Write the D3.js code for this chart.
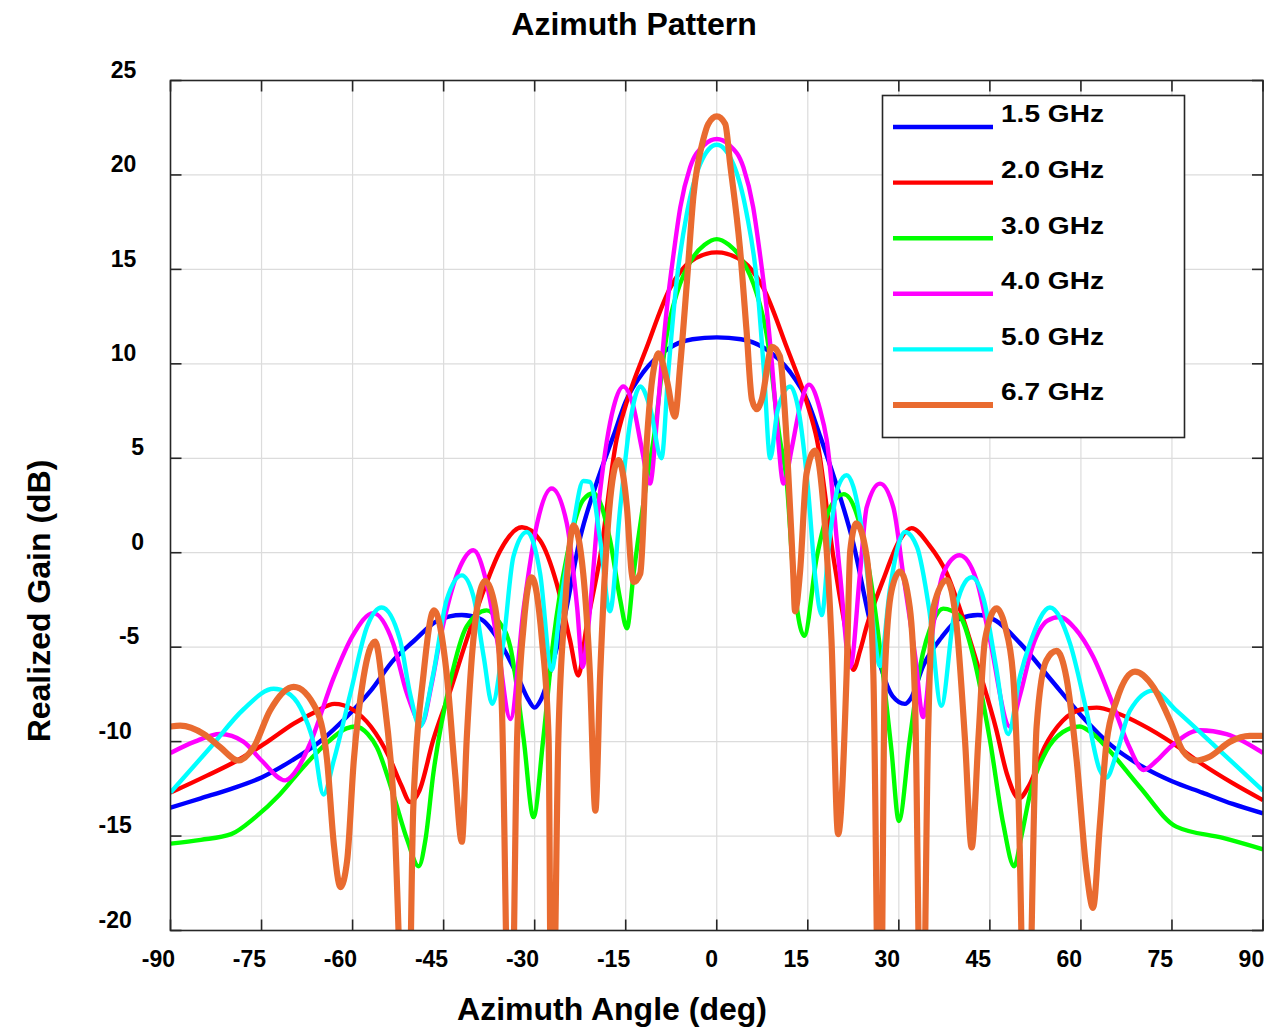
<!DOCTYPE html>
<html>
<head>
<meta charset="utf-8">
<script src="https://cdn.jsdelivr.net/npm/d3@7"></script>
<style>
  body { margin: 0; background: #fff; }
  text { font-family: "Liberation Sans", Arial, sans-serif; font-weight: bold; fill: #000; }
</style>
</head>
<body>
<svg width="1270" height="1030"></svg>
<script>
// series labels and colours
var freqs = ["1.5 GHz", "2.0 GHz", "3.0 GHz", "4.0 GHz", "5.0 GHz", "6.7 GHz"];
var colors = ["#0000ff", "#ff0000", "#00ff00", "#ff00ff", "#00ffff", "#e96b30"];
var xTicks = [-90, -75, -60, -45, -30, -15, 0, 15, 30, 45, 60, 75, 90];
var yTicks = [-20, -15, -10, -5, 0, 5, 10, 15, 20, 25];

// [angle deg, gain dB]
var g15 = [[-90,-13.5],[-85,-13.0],[-80,-12.5],[-75,-11.9],[-70,-11.0],[-65,-9.9],[-61,-8.7],[-57,-7.3],[-53.3,-5.7],[-50,-4.7],[-46,-3.6],[-42,-3.3],[-39,-3.5],[-36,-4.6],[-33,-6.4],[-31,-7.8],[-30,-8.2],[-29,-7.8],[-27,-5.8],[-25,-3.3],[-22.5,0.8],[-20,3.5],[-17,6.2],[-15,8.0],[-12,9.6],[-8,10.8],[-4,11.3],[0,11.4],[4,11.3],[8,10.8],[12,9.6],[15,8.0],[17,6.2],[20,3.3],[22.5,0.5],[25,-3.3],[27,-6.0],[29,-7.6],[31,-8.0],[32,-7.7],[34,-6.0],[37,-4.5],[40,-3.5],[43,-3.3],[46,-3.6],[50,-4.8],[55,-6.7],[60,-8.6],[65,-10.2],[70,-11.3],[75,-12.1],[80,-12.7],[85,-13.3],[90,-13.8]];

var g20 = [[-90,-12.7],[-84,-11.8],[-79,-11.0],[-74,-10.0],[-69.7,-9.05],[-66,-8.4],[-63,-8.0],[-60,-8.3],[-57,-9.2],[-54,-10.8],[-52,-12.3],[-50.5,-13.2],[-49,-12.6],[-46.7,-9.9],[-43.9,-7.3],[-41.2,-4.6],[-38.4,-2.0],[-35.7,0.1],[-32.1,1.35],[-29.1,0.65],[-26.4,-1.6],[-24.2,-4.6],[-22.8,-6.5],[-21.5,-4.0],[-19.2,-0.2],[-16.5,6.0],[-15,7.8],[-11.5,10.9],[-7.7,14.0],[-4.4,15.4],[0,15.9],[4.4,15.4],[7.7,14.0],[11.5,10.9],[15,7.8],[16.5,6.0],[19.2,-0.2],[21.3,-4.2],[22.5,-6.2],[23.6,-5.2],[24.7,-3.9],[27.4,-1.45],[30.2,0.7],[32.1,1.3],[35,0.4],[37.9,-1.1],[40.5,-3.4],[43.4,-6.4],[46,-9.3],[47.8,-11.7],[49.8,-13.0],[51.5,-12.3],[54,-10.3],[57,-8.9],[60,-8.3],[62.6,-8.2],[66,-8.5],[70,-9.1],[75.2,-10.1],[80,-11.2],[85,-12.2],[90,-13.1]];

var g30 = [[-90,-15.4],[-85,-15.2],[-80,-14.9],[-76,-14.0],[-72,-12.8],[-68,-11.3],[-64,-10.0],[-61,-9.3],[-59.5,-9.2],[-57.5,-9.6],[-56,-10.3],[-53.3,-12.8],[-51,-15.2],[-49.1,-16.6],[-48,-15.2],[-46.7,-11.7],[-43.9,-6.8],[-41.2,-3.9],[-37.9,-3.05],[-36,-3.6],[-34,-5.0],[-31.8,-9.9],[-30.2,-14.0],[-28.6,-9.9],[-26.9,-4.6],[-24.7,-0.2],[-22,2.8],[-20.3,3.15],[-17.6,0.7],[-15.9,-2.5],[-14.8,-4.0],[-13.7,-1.1],[-11.5,3.85],[-10.4,6.0],[-8.2,11.6],[-6.6,13.7],[-4,15.6],[-2,16.3],[0,16.6],[2,16.3],[4,15.6],[6.6,13.7],[8.2,11.6],[10.4,6.0],[11.5,3.85],[12.6,-1.1],[14.4,-4.4],[16.5,-0.2],[18.7,2.4],[20.9,3.1],[23,2.1],[25.2,-1.1],[27.4,-6.4],[28.8,-10.5],[30,-14.2],[31.8,-9.9],[33.5,-6.05],[35.7,-3.6],[37.3,-2.96],[40.1,-3.4],[42.3,-5.5],[45,-9.9],[47.2,-14.35],[49,-16.6],[50.2,-15.0],[51.6,-12.8],[54.3,-10.5],[57,-9.5],[59.8,-9.2],[62,-9.6],[64.2,-10.3],[69.7,-12.4],[75.7,-14.5],[83.4,-15.1],[90,-15.7]];

var g40 = [[-90,-10.6],[-86,-10.0],[-81.8,-9.6],[-78,-10.0],[-75,-11.0],[-71.1,-12.05],[-69,-11.4],[-67,-10.1],[-63.1,-6.6],[-60,-4.4],[-56.6,-3.2],[-53.3,-4.8],[-51,-7.5],[-48.6,-9.05],[-47,-7.0],[-45.6,-4.6],[-42.3,-0.75],[-40.1,0.13],[-38,-1.5],[-36.2,-4.6],[-34,-8.8],[-31.8,-2.9],[-29.6,1.55],[-27.2,3.4],[-24.7,1.55],[-23,-2.9],[-22.1,-6.05],[-21.4,-4.6],[-19.2,3.3],[-17,7.7],[-15.4,8.8],[-13.7,7.7],[-12.4,5.6],[-11,3.66],[-9.9,6.85],[-9.1,10.0],[-8.2,13.0],[-7.1,15.85],[-6,18.3],[-4.4,20.4],[-2,21.6],[0,21.9],[2,21.6],[4.4,20.4],[6,18.3],[7.1,15.85],[8.2,13.0],[9.1,10.0],[9.9,6.85],[11,3.66],[12.4,5.6],[13.7,7.7],[15.2,8.9],[17,7.6],[18.1,6.0],[20.3,-1.1],[22,-6.05],[23.6,-1.1],[24.7,2.4],[26.9,3.66],[29.1,2.4],[30.7,-1.1],[32.7,-5.5],[34,-8.7],[35.7,-3.8],[37.3,-1.1],[40,-0.13],[42.8,-1.45],[45,-4.6],[48.3,-9.2],[50,-7.5],[52,-5.0],[54.5,-3.6],[56.5,-3.4],[59,-4.0],[62,-5.5],[65,-7.8],[68,-10.3],[70.3,-11.5],[72.5,-11.0],[74.7,-10.3],[79.6,-9.4],[84,-9.6],[90,-10.6]];

var g50 = [[-90,-12.7],[-83.4,-10.3],[-78,-8.3],[-73,-7.2],[-70.8,-7.4],[-68.6,-8.2],[-66.4,-10.1],[-64.8,-12.8],[-63.1,-11.0],[-60.4,-7.5],[-57.6,-3.9],[-55.2,-2.9],[-52.2,-4.6],[-50.5,-7.5],[-48.9,-9.2],[-46.7,-6.4],[-44.5,-2.5],[-42,-1.2],[-40.1,-2.3],[-38.4,-5.5],[-37,-8.0],[-35.1,-4.6],[-33.5,-0.2],[-31.3,1.1],[-29.1,-1.1],[-27.2,-6.2],[-25.8,-2.9],[-23.6,1.55],[-22,3.8],[-20.9,3.75],[-19.2,0.67],[-17.6,-3.1],[-15.9,2.4],[-14.3,6.85],[-12.6,8.8],[-11,7.7],[-9.1,5.0],[-8,9.5],[-6.6,14.4],[-4.9,18.0],[-2.7,20.6],[0,21.6],[2.7,20.6],[4.9,18.0],[6.6,14.4],[7.8,9.5],[8.8,5.0],[10,7.5],[12.1,8.8],[13.5,7.5],[15,3.5],[16.3,-1.5],[17.3,-3.3],[18.5,0.5],[20,3.5],[21.4,4.1],[22.5,3.5],[24,1.0],[25.5,-3.0],[26.9,-6.0],[28.5,-2.0],[30,0.5],[31,1.1],[33,0.3],[35,-3.0],[37,-8.1],[39,-3.5],[40.5,-1.8],[42,-1.3],[44,-2.5],[46,-6.0],[48,-9.6],[50,-6.5],[51.6,-4.8],[54.9,-2.9],[58.2,-4.8],[60.9,-8.35],[63.1,-11.5],[64.2,-11.9],[65.9,-10.6],[68.1,-8.35],[71.9,-7.3],[75.7,-8.35],[82.3,-10.3],[90,-12.6]];

var g67 = [[-90,-9.2],[-88.4,-9.15],[-84.5,-9.6],[-81.8,-10.3],[-78.8,-11.0],[-76.3,-10.3],[-73.6,-8.35],[-69.7,-7.1],[-65.9,-8.35],[-64.2,-11.0],[-63.1,-15.4],[-62,-17.7],[-60.9,-16.3],[-59.8,-11.0],[-58.2,-6.6],[-56.3,-4.7],[-54.9,-7.5],[-53.3,-12.8],[-51,-30],[-50,-13.5],[-48.3,-6.4],[-46.6,-3.05],[-44.5,-6.4],[-43.1,-11.7],[-42,-15.3],[-41.2,-9.9],[-40.1,-4.6],[-38.2,-1.5],[-36.5,-2.9],[-35.4,-8.2],[-34,-30],[-32.9,-9.9],[-31.8,-3.8],[-30.5,-1.3],[-28.8,-4.6],[-27.7,-9.9],[-27.2,-30],[-26.1,-9.9],[-25,-2.9],[-23.6,1.45],[-22,-1.1],[-20.9,-6.4],[-20,-13.65],[-19.2,-6.4],[-18.1,0.67],[-17,4.2],[-16.2,4.9],[-14.8,2.4],[-14,-1.1],[-13.7,-1.55],[-12.6,-1.1],[-11.5,6.0],[-9.9,10.4],[-9.6,10.55],[-8.2,9.1],[-6.9,7.2],[-6,10.0],[-4.9,14.4],[-3.85,18.85],[-2.2,21.9],[-1.4,22.7],[0,23.1],[1.4,22.7],[2.2,20.6],[3.8,16.2],[4.9,11.8],[5.8,8.1],[6.6,7.6],[7.4,8.1],[9.1,10.9],[10.4,10.4],[11.5,6.0],[12.6,-1.1],[12.9,-3.1],[13.7,-1.1],[14.8,4.2],[16.2,5.4],[17.8,1.55],[18.9,-4.6],[20,-14.9],[21.4,-6.4],[22,0.13],[23,1.55],[24.7,-0.2],[25.8,-6.4],[26.9,-30],[27.7,-6.4],[28.8,-2.0],[30.2,-1.0],[31.8,-2.9],[32.7,-8.2],[33.8,-30],[34.8,-9.9],[35.7,-2.9],[37.9,-1.45],[39.5,-3.8],[40.9,-9.9],[42,-15.6],[43.1,-9.9],[44.2,-4.6],[46.1,-2.95],[47.5,-3.9],[48.8,-6.4],[49.7,-12.8],[51,-30],[52.7,-9.2],[54.3,-5.7],[56,-5.2],[57.6,-6.6],[59.3,-11.0],[60.9,-16.8],[62,-18.8],[63.1,-14.5],[64.2,-10.1],[65.9,-7.8],[68.9,-6.3],[71.9,-7.1],[74.7,-8.9],[76.8,-10.5],[79,-11.0],[81.2,-10.8],[84.6,-10.0],[87.8,-9.7],[90,-9.7]];

var series = [g15, g20, g30, g40, g50, g67];

var svg = d3.select("svg");
var plotL = 170.5, plotT = 80.5, plotR = 1263, plotB = 930.5;

var x = d3.scaleLinear().domain([-90, 90]).range([plotL, plotR]);
var y = d3.scaleLinear().domain([-20, 25]).range([plotB, plotT]);

// grid
svg.append("g").selectAll("line").data(xTicks.slice(1, -1)).enter().append("line")
    .attr("x1", function(d){return x(d);}).attr("x2", function(d){return x(d);})
    .attr("y1", plotT).attr("y2", plotB)
    .attr("stroke", "#dcdcdc").attr("stroke-width", 1.2);
svg.append("g").selectAll("line").data(yTicks.slice(1, -1)).enter().append("line")
    .attr("y1", function(d){return y(d);}).attr("y2", function(d){return y(d);})
    .attr("x1", plotL).attr("x2", plotR)
    .attr("stroke", "#dcdcdc").attr("stroke-width", 1.2);

// curves
svg.append("clipPath").attr("id", "plotclip")
  .append("rect").attr("x", plotL).attr("y", plotT).attr("width", plotR - plotL).attr("height", plotB - plotT);

var line = d3.line()
    .x(function(d){return x(d[0]);})
    .y(function(d){return y(d[1]);})
    .curve(d3.curveMonotoneX);

svg.append("g").attr("clip-path", "url(#plotclip)")
  .selectAll("path").data(series).enter().append("path")
    .attr("d", line)
    .attr("fill", "none")
    .attr("stroke", function(d, i){return colors[i];})
    .attr("stroke-width", function(d, i){return i == 5 ? 6.2 : 4.4;})
    .attr("stroke-linejoin", "round");

// frame and inward ticks
var frame = svg.append("g").attr("stroke", "#262626").attr("stroke-width", 1.6).attr("fill", "none");
frame.append("rect").attr("x", plotL).attr("y", plotT).attr("width", plotR - plotL).attr("height", plotB - plotT);
xTicks.forEach(function(t){
  frame.append("line").attr("x1", x(t)).attr("x2", x(t)).attr("y1", plotB).attr("y2", plotB - 11);
  frame.append("line").attr("x1", x(t)).attr("x2", x(t)).attr("y1", plotT).attr("y2", plotT + 11);
});
yTicks.forEach(function(t){
  frame.append("line").attr("y1", y(t)).attr("y2", y(t)).attr("x1", plotL).attr("x2", plotL + 11);
  frame.append("line").attr("y1", y(t)).attr("y2", y(t)).attr("x1", plotR).attr("x2", plotR - 11);
});

// tick labels
svg.append("g").selectAll("text").data(xTicks).enter().append("text")
    .attr("x", function(d){return x(d) + (d < 0 ? 4.5 : 1.2);})
    .attr("y", 966.5)
    .attr("text-anchor", "end")
    .style("font-size", "23px")
    .text(function(d){return d;});

svg.append("g").selectAll("text").data(yTicks).enter().append("text")
    .attr("y", function(d){return y(d) - 2.8;})
    .attr("text-anchor", "end")
    .style("font-size", "23px")
    .text(function(d){return d;})
    .attr("x", function(){return 144 - 0.6 * (this.getComputedTextLength() - 12.8);});

// titles
svg.append("text").attr("x", 634).attr("y", 35).attr("text-anchor", "middle")
    .style("font-size", "32px").text("Azimuth Pattern");
svg.append("text").attr("x", 612).attr("y", 1020).attr("text-anchor", "middle")
    .style("font-size", "32px").text("Azimuth Angle (deg)");
svg.append("text").attr("transform", "translate(50,601) rotate(-90)").attr("text-anchor", "middle")
    .style("font-size", "32px").text("Realized Gain (dB)");

// legend
var legend = svg.append("g");
legend.append("rect").attr("x", 882.5).attr("y", 95.5).attr("width", 302).attr("height", 342)
    .attr("fill", "#fff").attr("stroke", "#262626").attr("stroke-width", 1.6);
freqs.forEach(function(f, i){
  var ly = 127 + i * 55.6;
  legend.append("line").attr("x1", 893).attr("x2", 993).attr("y1", ly).attr("y2", ly)
      .attr("stroke", colors[i]).attr("stroke-width", i == 5 ? 6 : 4.4);
  legend.append("text").attr("x", 1001).attr("y", ly - 4.7)
      .style("font-size", "24px")
      .attr("textLength", 103).attr("lengthAdjust", "spacingAndGlyphs")
      .text(f);
});
</script>
</body>
</html>
